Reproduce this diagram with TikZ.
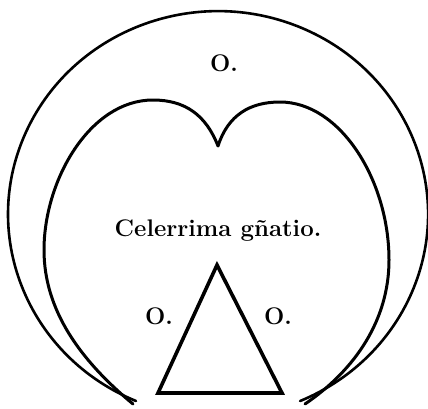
\documentclass[tikz,border=0pt]{standalone}
\usepackage{fontspec}
\usepackage{tikz}
\usetikzlibrary{positioning}
\tikzset{
  rim/.style={line width=2.6pt, line cap=round},
  heart/.style={line width=3pt, line cap=round, line join=round},
  trigon/.style={line width=3.6pt, line join=miter},
  label/.style={font=\fontsize{24}{28}\selectfont\bfseries, inner sep=0pt}
}

\begin{document}
\begin{tikzpicture}[x=1pt, y=-1pt]

  \useasboundingbox (0,0) rectangle (428,408);

  % outer circle, open at the bottom
  \draw[rim] (136,401) arc[start angle=113, end angle=427, x radius=210, y radius=203];

  % inner heart
  \draw[heart] (133,404)
    .. controls (80,360) and (44,310) .. (44,250)
    .. controls (44,180) and (90,100) .. (153,100)
    .. controls (185,100) and (206,115) .. (218,146)
    .. controls (228,115) and (250,102) .. (280,102)
    .. controls (340,102) and (389,180) .. (389,260)
    .. controls (389,320) and (355,370) .. (305,404);

  % triangle
  \draw[trigon] (217,265) -- (282,393) -- (158,393) -- cycle;

  % texts
  \node[label] (otop) at (224,63) {O.};
  \node[label] (motus) at (218,231) {Celerrima gñatio.};
  \node[label] (oleft) at (159,316) {O.};
  \node[label] (oright) at (278,316) {O.};

\end{tikzpicture}
\end{document}
